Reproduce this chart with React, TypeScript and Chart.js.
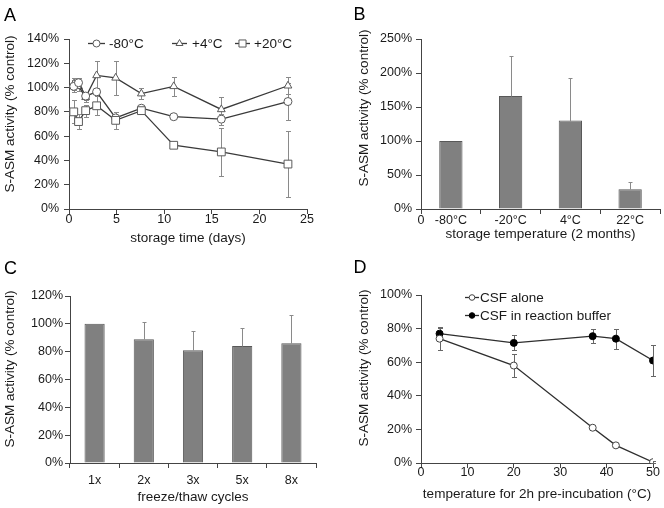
import React, { useEffect, useRef } from 'react';
import { Chart, registerables } from 'chart.js';

Chart.register(...registerables);

const FONT = "'Liberation Sans', Arial, Helvetica, sans-serif";
const TICK = 12.5;
const TITLE = 13.5;
const AX = '#444444';
const TXT = '#1a1a1a';

// ---------- Panel A: storage time ----------
const daysA = [0.5, 1, 1.75, 2.9, 4.9, 7.6, 11, 16, 23];
const m80 = [101, 104, 93, 96.5, 75, 83, 76, 74, 88.5];
const m80Err = [5, 4, 3, 3, 2, 2, 1.5, 4.5, 15.5];
const p4 = [103, 101, 92, 110, 108, 95, 101, 82, 101.5];
const p4Err = [5, 4, 4, 12, 14, 4.6, 8, 10, 7];
const p20 = [80, 72, 81, 85, 73, 81, 52.5, 47, 37];
const p20Err = [9.5, 6, 5, 8, 7, 3, 1, 20, 27];

// ---------- Panel B: storage temperature ----------
const catsB = ['-80°C', '-20°C', '4°C', '22°C'];
const valsB = [100, 166, 130, 29];
const errB = [0, 59, 62, 11];

// ---------- Panel C: freeze/thaw ----------
const catsC = ['1x', '2x', '3x', '5x', '8x'];
const valsC = [100, 89, 81, 84, 86];
const errC = [0, 12, 14, 13, 20];

// ---------- Panel D: pre-incubation temperature ----------
const tempsD = [4, 20, 37, 42, 50];
const aloneD = [74, 58, 21, 10.5, 0.5];
const aloneErr = [6.5, 7, 1, 0.7, 0.5];
const bufferD = [77, 71.5, 75.5, 74, 61];
const bufferErr = [4, 4.5, 4, 6, 9];

function drawMarker(ctx: CanvasRenderingContext2D, style: string, x: number, y: number, r: number, fill: string, stroke: string) {
  ctx.save();
  ctx.fillStyle = fill;
  ctx.strokeStyle = stroke;
  ctx.lineWidth = 1;
  ctx.beginPath();
  if (style === 'circle') {
    ctx.arc(x, y, r, 0, Math.PI * 2);
  } else if (style === 'triangle') {
    const h = r;
    ctx.moveTo(x, y - h);
    ctx.lineTo(x + h * 0.866, y + h * 0.5);
    ctx.lineTo(x - h * 0.866, y + h * 0.5);
    ctx.closePath();
  } else {
    const s = r * Math.SQRT1_2;
    ctx.rect(x - s, y - s, 2 * s, 2 * s);
  }
  ctx.fill();
  ctx.stroke();
  ctx.restore();
}

function drawErrors(chart: any, opts: any) {
  const ctx = chart.ctx;
  const ys = chart.scales.y;
  const cap = opts.cap ?? 2.5;
  ctx.save();
  ctx.strokeStyle = opts.color || '#888';
  ctx.lineWidth = 1;
  chart.data.datasets.forEach((ds: any, di: number) => {
    const errs = ds.errors;
    if (!errs) return;
    const meta = chart.getDatasetMeta(di);
    meta.data.forEach((el: any, i: number) => {
      const e = errs[i];
      if (!e) return;
      const raw = ds.data[i];
      const v = typeof raw === 'number' ? raw : raw.y;
      const x = Math.round(el.x) + 0.5;
      const yt = Math.round(ys.getPixelForValue(v + e)) + 0.5;
      const yb = Math.round(ys.getPixelForValue(opts.upOnly ? v : v - e)) + 0.5;
      ctx.beginPath();
      ctx.moveTo(x, yb);
      ctx.lineTo(x, yt);
      ctx.moveTo(x - cap, yt);
      ctx.lineTo(x + cap, yt);
      if (!opts.upOnly) {
        ctx.moveTo(x - cap, yb);
        ctx.lineTo(x + cap, yb);
      }
      ctx.stroke();
    });
  });
  ctx.restore();
}

const errPlugin = {
  id: 'errbars',
  beforeDatasetsDraw(chart: any, _a: any, opts: any) {
    if (opts && opts.layer === 'back') drawErrors(chart, opts);
  },
  afterDatasetsDraw(chart: any, _a: any, opts: any) {
    if (opts && opts.layer === 'front') drawErrors(chart, opts);
  },
};

const decorPlugin = {
  id: 'decor',
  afterDraw(chart: any, _a: any, o: any) {
    if (!o) return;
    const ctx: CanvasRenderingContext2D = chart.ctx;
    const ca = chart.chartArea;
    ctx.save();
    if (o.letter) {
      ctx.font = `18px ${FONT}`;
      ctx.fillStyle = '#000';
      ctx.textAlign = 'left';
      ctx.textBaseline = 'alphabetic';
      ctx.fillText(o.letter.text, o.letter.x, o.letter.y);
    }
    if (o.yTitle) {
      ctx.save();
      ctx.translate(o.yTitle.x, o.yTitle.y);
      ctx.rotate(-Math.PI / 2);
      ctx.font = `${TITLE}px ${FONT}`;
      ctx.fillStyle = TXT;
      ctx.textAlign = 'center';
      ctx.textBaseline = 'middle';
      ctx.fillText(o.yTitle.text, 0, 0);
      ctx.restore();
    }
    if (o.extra) {
      o.extra.forEach((t: any) => {
        ctx.font = `${TICK}px ${FONT}`;
        ctx.fillStyle = TXT;
        ctx.textAlign = 'center';
        ctx.textBaseline = 'middle';
        ctx.fillText(t.text, ca.left + t.dx, ca.bottom + t.dy);
      });
    }
    if (o.legend) {
      o.legend.forEach((it: any) => {
        ctx.strokeStyle = it.line;
        ctx.lineWidth = 1.3;
        ctx.beginPath();
        ctx.moveTo(it.x1, it.y + 0.5);
        ctx.lineTo(it.x2, it.y + 0.5);
        ctx.stroke();
        drawMarker(ctx, it.style, (it.x1 + it.x2) / 2, it.y + 0.5, it.r, it.fill, it.stroke);
        ctx.font = `${TITLE}px ${FONT}`;
        ctx.fillStyle = TXT;
        ctx.textAlign = 'left';
        ctx.textBaseline = 'middle';
        ctx.fillText(it.label, it.tx, it.y + 1);
      });
    }
    ctx.restore();
  },
};

Chart.register(errPlugin as any, decorPlugin as any);

const tickFont = { family: FONT, size: TICK };
const titleFont = { family: FONT, size: TITLE };

function yAxis(max: number, step: number, width: number, pad: number) {
  return {
    min: 0,
    max,
    ticks: { stepSize: step, callback: (v: any) => v + '%', font: tickFont, color: TXT, padding: pad },
    grid: { drawOnChartArea: false, drawTicks: true, tickLength: 5, color: AX },
    border: { display: true, color: AX, width: 1 },
    afterFit: (s: any) => { s.width = width; },
  };
}

function xTitle(text: string, padBottom: number) {
  return { display: true, text, font: titleFont, color: TXT, padding: { top: 0, bottom: padBottom } };
}

function xLinear(max: number, step: number, height: number, pad: number, title: string, titlePad: number) {
  return {
    type: 'linear',
    min: 0,
    max,
    ticks: { stepSize: step, font: tickFont, color: TXT, padding: pad },
    grid: { drawOnChartArea: false, drawTicks: true, tickLength: 5, color: AX },
    border: { display: true, color: AX, width: 1 },
    title: xTitle(title, titlePad),
    afterFit: (s: any) => { s.height = height; },
  };
}

function xCategory(height: number, pad: number, title: string, titlePad: number) {
  return {
    type: 'category',
    ticks: { font: tickFont, color: TXT, padding: pad },
    grid: { drawOnChartArea: false, drawTicks: true, tickLength: 5, color: AX, offset: true },
    border: { display: true, color: AX, width: 1 },
    title: xTitle(title, titlePad),
    afterFit: (s: any) => { s.height = height; },
  };
}

const pts = (xs: number[], ys: number[]) => xs.map((x, i) => ({ x, y: ys[i] }));

const LINE_A = '#3a3a3a';
const MK_A = '#5a5a5a';

const configA: any = {
  type: 'scatter',
  data: {
    datasets: [
      { label: '+20°C', data: pts(daysA, p20), errors: p20Err, showLine: true, borderColor: LINE_A, borderWidth: 1.3, pointStyle: 'rect', pointRadius: 5.5, pointBackgroundColor: '#fff', pointBorderColor: MK_A, pointBorderWidth: 1 },
      { label: '-80°C', data: pts(daysA, m80), errors: m80Err, showLine: true, borderColor: LINE_A, borderWidth: 1.3, pointStyle: 'circle', pointRadius: 4, pointBackgroundColor: '#fff', pointBorderColor: MK_A, pointBorderWidth: 1 },
      { label: '+4°C', data: pts(daysA, p4), errors: p4Err, showLine: true, borderColor: LINE_A, borderWidth: 1.3, pointStyle: 'triangle', pointRadius: 4.5, pointBackgroundColor: '#fff', pointBorderColor: MK_A, pointBorderWidth: 1 },
    ],
  },
  options: {
    responsive: false,
    animation: false,
    layout: { padding: { left: 0, top: 39, right: 25, bottom: 0 } },
    scales: {
      x: xLinear(25, 5, 45, -2, 'storage time (days)', 7.9),
      y: yAxis(140, 20, 69, 5),
    },
    plugins: {
      legend: { display: false },
      tooltip: { enabled: false },
      errbars: { layer: 'back', color: '#8a8a8a', cap: 2.5 },
      decor: {
        letter: { text: 'A', x: 4, y: 20.5 },
        yTitle: { text: 'S-ASM activity (% control)', x: 10, y: 114 },
        legend: [
          { label: '-80°C', style: 'circle', r: 3.5, x1: 88, x2: 105, y: 43, tx: 109, line: LINE_A, fill: '#fff', stroke: MK_A },
          { label: '+4°C', style: 'triangle', r: 4, x1: 172, x2: 187, y: 43, tx: 192, line: LINE_A, fill: '#fff', stroke: MK_A },
          { label: '+20°C', style: 'rect', r: 5, x1: 235, x2: 250, y: 43, tx: 254, line: LINE_A, fill: '#fff', stroke: MK_A },
        ],
      },
    },
  },
};

const BAR_FILL = '#808080';
const BAR_BORDER = '#585858';

const configB: any = {
  type: 'bar',
  data: {
    labels: catsB,
    datasets: [
      { data: valsB, errors: errB, backgroundColor: BAR_FILL, borderColor: BAR_BORDER, borderWidth: 1, barPercentage: 0.39, categoryPercentage: 1 },
    ],
  },
  options: {
    responsive: false,
    animation: false,
    layout: { padding: { left: 0, top: 39, right: 4, bottom: 0 } },
    scales: {
      x: xCategory(45, -1, 'storage temperature (2 months)', 12),
      y: yAxis(250, 50, 89, 4),
    },
    plugins: {
      legend: { display: false },
      tooltip: { enabled: false },
      errbars: { layer: 'front', upOnly: true, color: '#8a8a8a', cap: 2 },
      decor: {
        letter: { text: 'B', x: 21.5, y: 20 },
        yTitle: { text: 'S-ASM activity (% control)', x: 32, y: 108 },
        extra: [{ text: '0', dx: 0, dy: 11.5 }],
      },
    },
  },
};

const configC: any = {
  type: 'bar',
  data: {
    labels: catsC,
    datasets: [
      { data: valsC, errors: errC, backgroundColor: BAR_FILL, borderColor: BAR_BORDER, borderWidth: 1, barPercentage: 0.41, categoryPercentage: 1 },
    ],
  },
  options: {
    responsive: false,
    animation: false,
    layout: { padding: { left: 0, top: 42, right: 16, bottom: 0 } },
    scales: {
      x: xCategory(45, 5.2, 'freeze/thaw cycles', 2.9),
      y: yAxis(120, 20, 70, 2),
    },
    plugins: {
      legend: { display: false },
      tooltip: { enabled: false },
      errbars: { layer: 'front', upOnly: true, color: '#8a8a8a', cap: 2 },
      decor: {
        letter: { text: 'C', x: 4, y: 20 },
        yTitle: { text: 'S-ASM activity (% control)', x: 10, y: 115 },
      },
    },
  },
};

const LINE_D = '#2e2e2e';

const configD: any = {
  type: 'scatter',
  data: {
    datasets: [
      { label: 'CSF alone', data: pts(tempsD, aloneD), errors: aloneErr, showLine: true, borderColor: LINE_D, borderWidth: 1.3, pointStyle: 'circle', pointRadius: 3.5, pointBackgroundColor: '#fff', pointBorderColor: '#444', pointBorderWidth: 1 },
      { label: 'CSF in reaction buffer', data: pts(tempsD, bufferD), errors: bufferErr, showLine: true, borderColor: LINE_D, borderWidth: 1.3, pointStyle: 'circle', pointRadius: 3.5, pointBackgroundColor: '#000', pointBorderColor: '#000', pointBorderWidth: 1 },
    ],
  },
  options: {
    responsive: false,
    animation: false,
    layout: { padding: { left: 0, top: 41, right: 11, bottom: 0 } },
    scales: {
      x: xLinear(50, 10, 45, -2.5, 'temperature for 2h pre-incubation (°C)', 5.9),
      y: yAxis(100, 20, 89, 4),
    },
    plugins: {
      legend: { display: false },
      tooltip: { enabled: false },
      errbars: { layer: 'back', color: '#666', cap: 2.5 },
      decor: {
        letter: { text: 'D', x: 21.5, y: 19 },
        yTitle: { text: 'S-ASM activity (% control)', x: 32, y: 114 },
        legend: [
          { label: 'CSF alone', style: 'circle', r: 2.8, x1: 133, x2: 147, y: 43, tx: 148, line: LINE_D, fill: '#fff', stroke: '#444' },
          { label: 'CSF in reaction buffer', style: 'circle', r: 2.8, x1: 133, x2: 147, y: 61, tx: 148, line: LINE_D, fill: '#000', stroke: '#000' },
        ],
      },
    },
  },
};

function Panel({ left, top, config }: { left: number; top: number; config: any }) {
  const ref = useRef<HTMLCanvasElement>(null);
  useEffect(() => {
    const chart = new Chart(ref.current as HTMLCanvasElement, config);
    return () => chart.destroy();
  }, [config]);
  return (
    <div style={{ position: 'absolute', left, top, width: 332, height: 254 }}>
      <canvas ref={ref} width={332} height={254} style={{ display: 'block', width: 332, height: 254 }} />
    </div>
  );
}

export default function App() {
  return (
    <div style={{ position: 'absolute', left: 0, top: 0, width: 664, height: 508, background: '#fff' }}>
      <Panel left={0} top={0} config={configA} />
      <Panel left={332} top={0} config={configB} />
      <Panel left={0} top={254} config={configC} />
      <Panel left={332} top={254} config={configD} />
    </div>
  );
}
